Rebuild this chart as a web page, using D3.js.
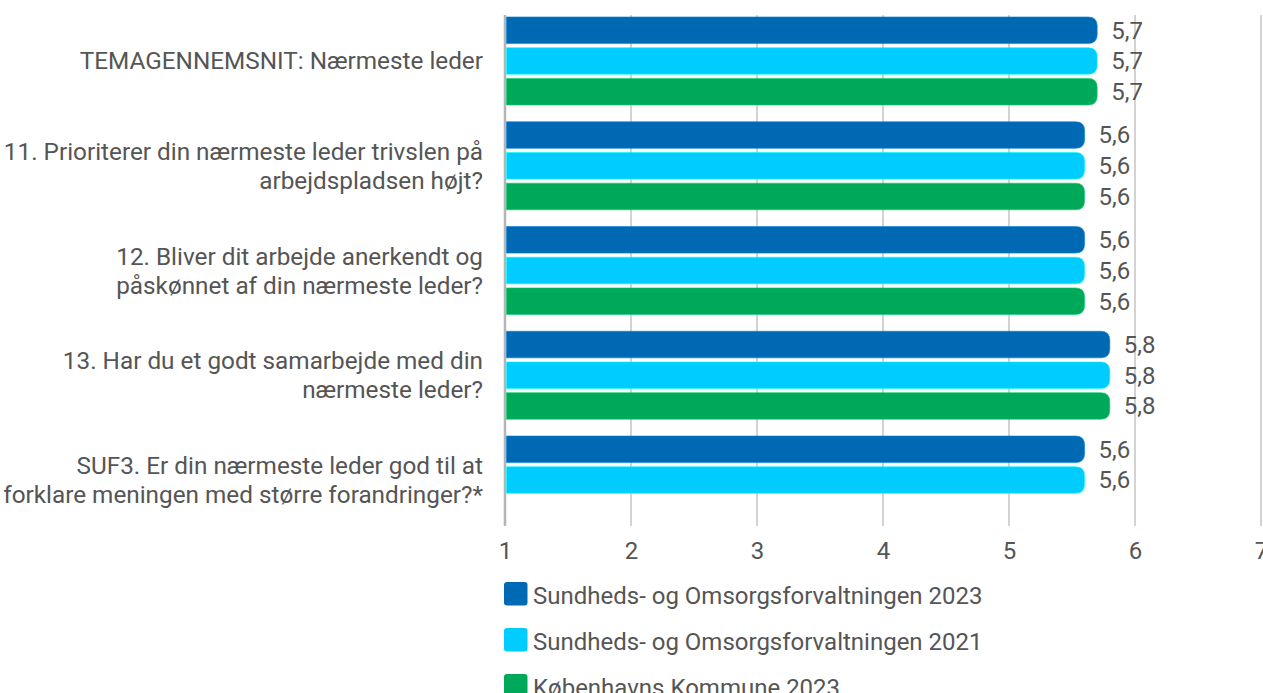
<!DOCTYPE html>
<html>
<head>
<meta charset="utf-8">
<script src="https://cdn.jsdelivr.net/npm/d3@7"></script>
<style>
  body { margin: 0; background: #fff; }
  svg text { font-family: Roboto, "Noto Sans", sans-serif; fill: #555; }
</style>
</head>
<body>
<svg id="chart" width="1263" height="693"></svg>
<script>
// categories (lines of each label)
var categories = [
  ['TEMAGENNEMSNIT: Nærmeste leder'],
  ['11. Prioriterer din nærmeste leder trivslen på', 'arbejdspladsen højt?'],
  ['12. Bliver dit arbejde anerkendt og', 'påskønnet af din nærmeste leder?'],
  ['13. Har du et godt samarbejde med din', 'nærmeste leder?'],
  ['SUF3. Er din nærmeste leder god til at', 'forklare meningen med større forandringer?*']
];
var seriesNames = [
  'Sundheds- og Omsorgsforvaltningen 2023',
  'Sundheds- og Omsorgsforvaltningen 2021',
  'Københavns Kommune 2023'
];
var sof2023 = [5.7, 5.6, 5.6, 5.8, 5.6];
var sof2021 = [5.7, 5.6, 5.6, 5.8, 5.6];
var kk2023 = [5.7, 5.6, 5.6, 5.8, null];
var xTicks = [1, 2, 3, 4, 5, 6, 7];

var colors = ['#0069B4', '#00CCFF', '#00A85A'];
var seriesValues = [sof2023, sof2021, kk2023];

var svg = d3.select('#chart');

var x = d3.scaleLinear().domain([1, 7]).range([505, 1261]);
var y = d3.scaleBand().domain(d3.range(categories.length)).range([8.6, 532.4]).padding(0);
var ySub = d3.scaleBand().domain(d3.range(3)).range([0, 88]).paddingInner(0.134);

var gridTop = 15, gridBottom = 526;

// gridlines
svg.append('g').selectAll('line')
  .data(xTicks)
  .enter().append('line')
  .attr('x1', function(d) { return x(d); })
  .attr('x2', function(d) { return x(d); })
  .attr('y1', gridTop)
  .attr('y2', gridBottom)
  .style('stroke', '#b5b5b5')
  .style('stroke-width', function(d) { return d === 1 ? 2.5 : 1.2; });

// x axis labels
var xAxis = d3.axisBottom(x).tickValues(xTicks).tickFormat(d3.format('d')).tickSize(0).tickPadding(0);
var xg = svg.append('g').attr('transform', 'translate(0,' + 559 + ')').call(xAxis);
xg.select('.domain').remove();
xg.selectAll('text')
  .attr('dy', 0)
  .style('font-size', '24px')
  .style('font-family', 'Roboto, sans-serif')
  .style('fill', '#555');

// bars
function barPath(x0, x1, yTop, h, r) {
  r = Math.min(r, (x1 - x0));
  return 'M' + x0 + ',' + yTop +
    'H' + (x1 - r) +
    'Q' + x1 + ',' + yTop + ' ' + x1 + ',' + (yTop + r) +
    'V' + (yTop + h - r) +
    'Q' + x1 + ',' + (yTop + h) + ' ' + (x1 - r) + ',' + (yTop + h) +
    'H' + x0 + 'Z';
}

var barsG = svg.append('g');
categories.forEach(function(cat, i) {
  var groupTop = y(i) + y.bandwidth() / 2 - 44;
  seriesValues.forEach(function(vals, s) {
    var v = vals[i];
    if (v == null) return;
    var top = groupTop + ySub(s);
    var h = ySub.bandwidth();
    barsG.append('path')
      .attr('d', barPath(x(1) + 1.5, x(v), top, h, 9))
      .style('fill', colors[s])
      .style('stroke', d3.color(colors[s]).brighter(0.6))
      .style('stroke-opacity', 0.6)
      .style('stroke-width', 1);
    barsG.append('text')
      .attr('x', x(v) + 14)
      .attr('y', top + h / 2)
      .attr('dy', '0.35em')
      .style('font-size', '24px')
      .text(d3.format('.1f')(v).replace('.', ','));
  });
});

// category labels
var labelG = svg.append('g');
categories.forEach(function(lines, i) {
  var cy = y(i) + y.bandwidth() / 2;
  var lh = 29;
  var t = labelG.append('text')
    .attr('text-anchor', 'end')
    .style('font-size', '24.3px');
  lines.forEach(function(line, k) {
    t.append('tspan')
      .attr('x', 483)
      .attr('y', cy + (k - (lines.length - 1) / 2) * lh)
      .attr('dy', '0.35em')
      .text(line);
  });
});

// legend
var legend = svg.append('g');
seriesNames.forEach(function(name, s) {
  var base = 604 + s * 46;
  legend.append('rect')
    .attr('x', 504)
    .attr('y', base - 22)
    .attr('width', 23.5)
    .attr('height', 23.5)
    .attr('rx', 3)
    .style('fill', colors[s]);
  legend.append('text')
    .attr('x', 533)
    .attr('y', base)
    .style('font-size', '24px')
    .text(name);
});
</script>
</body>
</html>
